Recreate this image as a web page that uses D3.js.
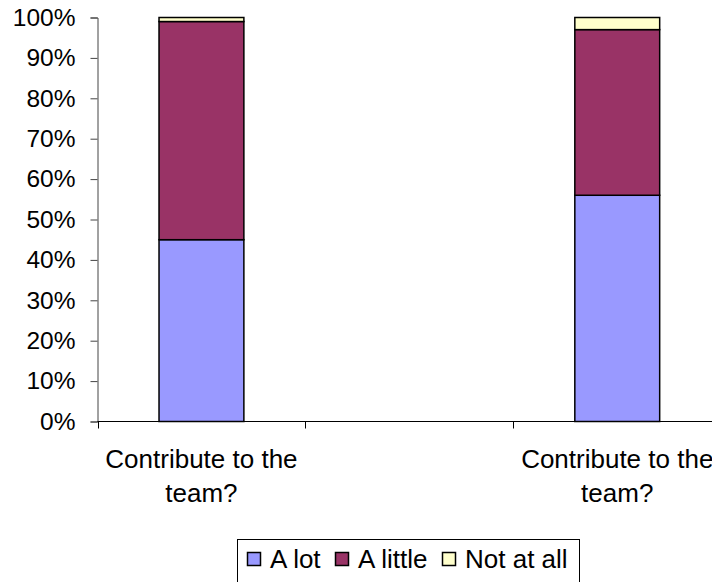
<!DOCTYPE html>
<html>
<head>
<meta charset="utf-8">
<script src="https://cdn.jsdelivr.net/npm/d3@7"></script>
<style>
  html, body { margin: 0; padding: 0; background: #fff; }
  svg { display: block; font-family: "Liberation Sans", Arial, sans-serif; }
</style>
</head>
<body>
<svg id="chart" width="712" height="582"></svg>
<script>
// Categories (the middle slot is left empty)
const categories = ["Contribute to the team?", "", "Contribute to the team?"];
const seriesNames = ["A lot", "A little", "Not at all"];
const aLot     = [45, null, 56];
const aLittle  = [54, null, 41];
const notAtAll = [1, null, 3];
const seriesColors = ["#9999FF", "#993366", "#FFFFCC"];
const yTicks = [0, 10, 20, 30, 40, 50, 60, 70, 80, 90, 100];

const svg = d3.select("#chart");
const plotLeft = 97.5, plotTop = 17.5, plotBottom = 421.5;
const step = 207.9;

const x = d3.scaleBand()
  .domain(d3.range(categories.length))
  .range([plotLeft, plotLeft + step * categories.length])
  .paddingInner(0).paddingOuter(0);
const y = d3.scaleLinear().domain([0, 100]).range([plotBottom, plotTop]);
const barW = x.bandwidth() / 2.45;

// Stack the three series per category
const rows = categories.map((c, i) => ({
  i, "A lot": aLot[i], "A little": aLittle[i], "Not at all": notAtAll[i]
})).filter(r => r["A lot"] !== null);
const stacked = d3.stack().keys(seriesNames)(rows);

const g = svg.append("g");
stacked.forEach((layer, k) => {
  g.selectAll(null).data(layer).enter().append("rect")
    .attr("x", d => x(d.data.i) + (x.bandwidth() - barW) / 2)
    .attr("y", d => y(d[1]))
    .attr("width", barW)
    .attr("height", d => y(d[0]) - y(d[1]))
    .attr("fill", seriesColors[k])
    .attr("stroke", "#000")
    .attr("stroke-width", 1.5);
});

// Y axis
const yAxis = svg.append("g")
  .attr("transform", `translate(${plotLeft},0)`)
  .call(d3.axisLeft(y).tickValues(yTicks).tickSize(7).tickPadding(15)
    .tickFormat(d => d + "%"));
yAxis.select(".domain").attr("stroke", "#444");
yAxis.selectAll(".tick line").attr("stroke", "#444");
yAxis.selectAll("text").attr("font-size", 24.5).attr("fill", "#000")
  .attr("font-family", "Liberation Sans, Arial, sans-serif");

// X axis line and tick marks at category boundaries
svg.append("line")
  .attr("x1", plotLeft).attr("x2", 712)
  .attr("y1", plotBottom).attr("y2", plotBottom)
  .attr("stroke", "#000");
const bounds = d3.range(categories.length + 1).map(i => plotLeft + i * x.step());
svg.selectAll(null).data(bounds).enter().append("line")
  .attr("x1", d => Math.round(d) + 0.5).attr("x2", d => Math.round(d) + 0.5)
  .attr("y1", plotBottom).attr("y2", plotBottom + 7)
  .attr("stroke", "#000");

// Category labels, wrapped onto two lines
categories.forEach((c, i) => {
  if (!c) return;
  const words = c.split(" ");
  const lines = [words.slice(0, 3).join(" "), words.slice(3).join(" ")];
  const t = svg.append("text")
    .attr("text-anchor", "middle")
    .attr("font-size", 26)
    .attr("fill", "#000");
  lines.forEach((ln, j) => {
    t.append("tspan")
      .attr("x", x(i) + x.bandwidth() / 2)
      .attr("y", 468 + j * 34)
      .text(ln);
  });
});

// Legend
const lg = svg.append("g");
lg.append("rect")
  .attr("x", 237.5).attr("y", 539.5)
  .attr("width", 342).attr("height", 60)
  .attr("fill", "#fff").attr("stroke", "#000");
const legendX = [247, 335, 442];
seriesNames.forEach((s, k) => {
  lg.append("rect")
    .attr("x", legendX[k] + 0.5).attr("y", 552.5)
    .attr("width", 13).attr("height", 13)
    .attr("fill", seriesColors[k]).attr("stroke", "#000").attr("stroke-width", 1.5);
  lg.append("text")
    .attr("x", legendX[k] + 23).attr("y", 567.5)
    .attr("font-size", 26).attr("fill", "#000")
    .text(s);
});
</script>
</body>
</html>
